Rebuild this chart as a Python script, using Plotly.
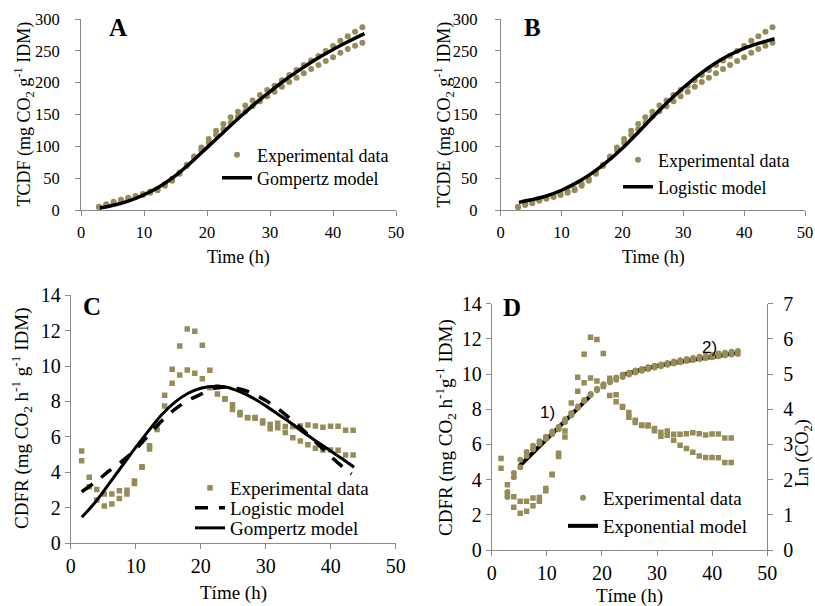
import plotly.graph_objects as go
import numpy as np

W, H = 815, 606
SERIF = "Times New Roman, Liberation Serif, DejaVu Serif, serif"
SANS = "Arial, Liberation Sans, DejaVu Sans, sans-serif"
OLIVE = "#978C58"
AXC = "#8a8a8a"

# ---------------- data ----------------
# cumulative CO2 (TCDF / TCDE), two replicates
time_cum = [2.86, 4.02, 5.18, 6.34, 7.50, 8.67, 9.83, 10.99, 12.15, 13.31, 14.47, 15.63,
            16.79, 17.95, 19.11, 20.28, 21.44, 22.60, 23.76, 24.92, 26.08, 27.24, 28.40,
            29.56, 30.72, 31.89, 33.05, 34.21, 35.37, 36.53, 37.69, 38.85, 40.01, 41.17,
            42.34, 43.50, 44.66]
tcdf_rep1 = [5.2, 8.9, 13.0, 16.2, 19.4, 22.0, 25.0, 29.0, 33.0, 41.0, 49.0, 59.0, 71.0,
             84.0, 98.0, 111.5, 124.6, 135.0, 145.6, 154.4, 164.0, 172.0, 180.6, 188.5,
             195.0, 203.7, 212.0, 220.0, 227.7, 235.0, 242.0, 249.7, 257.6, 266.0, 273.0,
             280.0, 287.0]
tcdf_rep2 = [4.5, 7.9, 10.5, 14.5, 17.5, 20.5, 23.5, 27.0, 31.0, 38.0, 46.0, 57.0, 69.0,
             82.0, 94.0, 105.7, 117.8, 126.7, 137.0, 147.0, 155.0, 163.0, 171.0, 178.6,
             185.9, 193.7, 201.0, 207.8, 214.7, 221.5, 227.7, 234.0, 240.0, 247.0, 252.9,
             258.0, 262.8]

# models for cumulative CO2
gompertz_cum_t = [3, 5, 7.5, 10, 12.5, 15, 17.5, 20, 22.5, 25, 27.5, 30, 32.5, 35, 37.5, 40, 42.5, 45]
gompertz_cum = [3, 7, 14, 24, 37, 54, 75, 98, 121, 144, 166, 186, 205, 222, 238, 252, 265, 277]
logistic_cum_t = [3, 5, 7.5, 10, 12.5, 15, 17.5, 20, 22.5, 25, 27.5, 30, 32.5, 35, 37.5, 40, 42.5, 45]
logistic_cum = [12, 16, 22, 31, 43, 58, 76, 97, 121, 146, 170, 192, 212, 229, 243, 254, 262, 269]

# CO2 production rate (CDFR), two replicates
time_rate = [1.69, 2.85, 4.01, 5.17, 6.33, 7.49, 8.65, 9.81, 10.97, 12.13, 13.29, 14.45,
             15.61, 16.77, 17.93, 19.09, 20.25, 21.41, 22.57, 23.73, 24.89, 26.05, 27.21,
             28.37, 29.53, 30.69, 31.85, 33.01, 34.17, 35.33, 36.49, 37.65, 38.81, 39.97,
             41.13, 42.29, 43.45]
cdfr_rep1 = [5.2, 3.71, 3.03, 2.77, 2.77, 2.96, 2.98, 3.5, 4.31, 5.5, 6.76, 8.35, 9.82,
             11.13, 12.1, 11.97, 11.17, 9.76, 8.82, 8.16, 7.82, 7.37, 7.1, 7.1, 6.9, 6.7,
             6.77, 6.58, 6.58, 6.61, 6.67, 6.61, 6.54, 6.6, 6.6, 6.37, 6.37]
cdfr_rep2 = [4.65, 3.18, 2.43, 2.09, 2.2, 2.52, 2.77, 3.37, 4.28, 5.31, 6.42, 7.74, 9.03,
             9.5, 9.78, 9.6, 9.29, 8.78, 8.42, 8.12, 7.55, 7.25, 7.08, 7.05, 6.78, 6.46,
             6.52, 6.24, 5.95, 5.77, 5.56, 5.35, 5.26, 5.26, 5.24, 4.97, 4.97]

# models for the rate
gompertz_rate_t = [1.7, 4, 6, 8, 10, 12, 14, 16, 18, 20, 22, 24, 26, 28, 30, 32, 34, 36, 38, 40, 42, 43.6]
gompertz_rate = [1.45, 2.4, 3.4, 4.4, 5.4, 6.35, 7.25, 7.95, 8.45, 8.75, 8.85, 8.8, 8.55,
                 8.2, 7.75, 7.25, 6.75, 6.2, 5.7, 5.2, 4.7, 4.28]
logistic_rate_t = [1.7, 4, 6, 8, 10, 12, 14, 16, 18, 20, 22, 24, 26, 28, 30, 32, 34, 36, 38, 40, 42, 43.2]
logistic_rate = [2.9, 3.5, 4.1, 4.65, 5.3, 6.1, 6.9, 7.55, 8.05, 8.4, 8.75, 8.8, 8.7, 8.45,
                 8.05, 7.55, 6.95, 6.3, 5.6, 4.9, 4.25, 3.9]

# exponential model on Ln(CO2): phase 1) and phase 2)
expo_t = [5.0, 17.9, None, 23.7, 29.3, 35.4, 41.4, 44.75]
expo_ln = [2.38, 4.38, None, 4.97, 5.21, 5.38, 5.52, 5.61]

# Ln of cumulative CO2 (both replicates)
ln_rep1 = list(np.round(np.log(tcdf_rep1), 3))
ln_rep2 = list(np.round(np.log(tcdf_rep2), 3))

both_t_cum = time_cum + time_cum
both_tcdf = tcdf_rep1 + tcdf_rep2
both_t_rate = time_rate + time_rate
both_cdfr = cdfr_rep1 + cdfr_rep2
both_ln = ln_rep1 + ln_rep2

# ---------------- helpers ----------------
def fx(p):
    return p / W

def fy(p):
    return 1 - p / H

fig = go.Figure()

def add(tr):
    fig.add_trace(tr)

# Panel A
add(go.Scatter(x=both_t_cum, y=both_tcdf, mode="markers", xaxis="x", yaxis="y",
               marker=dict(color=OLIVE, size=6), name="Experimental data", legend="legend"))
add(go.Scatter(x=gompertz_cum_t, y=gompertz_cum, mode="lines", xaxis="x", yaxis="y",
               line=dict(color="black", width=3.5, shape="spline"), name="Gompertz model",
               legend="legend2"))
# Panel B
add(go.Scatter(x=both_t_cum, y=both_tcdf, mode="markers", xaxis="x2", yaxis="y2",
               marker=dict(color=OLIVE, size=6), name="Experimental data", legend="legend3"))
add(go.Scatter(x=logistic_cum_t, y=logistic_cum, mode="lines", xaxis="x2", yaxis="y2",
               line=dict(color="black", width=3.5, shape="spline"), name="Logistic model",
               legend="legend4"))
# Panel C
add(go.Scatter(x=both_t_rate, y=both_cdfr, mode="markers", xaxis="x3", yaxis="y3",
               marker=dict(color=OLIVE, size=5.5, symbol="square"), name="Experimental data",
               legend="legend5"))
add(go.Scatter(x=logistic_rate_t, y=logistic_rate, mode="lines", xaxis="x3", yaxis="y3",
               line=dict(color="black", width=3.5, shape="spline", dash="13px,11px"),
               name="Logistic model", legend="legend6"))
add(go.Scatter(x=gompertz_rate_t, y=gompertz_rate, mode="lines", xaxis="x3", yaxis="y3",
               line=dict(color="black", width=3, shape="spline"), name="Gompertz model",
               legend="legend7"))
# Panel D
add(go.Scatter(x=both_t_rate, y=both_cdfr, mode="markers", xaxis="x4", yaxis="y4",
               marker=dict(color=OLIVE, size=5.5, symbol="square"), showlegend=False))
add(go.Scatter(x=expo_t, y=expo_ln, mode="lines", xaxis="x4", yaxis="y5",
               line=dict(color="black", width=4, shape="spline"), name="Exponential model",
               legend="legend9", connectgaps=False))
add(go.Scatter(x=both_t_cum, y=both_ln, mode="markers", xaxis="x4", yaxis="y5",
               marker=dict(color=OLIVE, size=6), name="Experimental data", legend="legend8"))

tickfont_ab = dict(family=SERIF, size=16.5, color="black")
tickfont_cd = dict(family=SERIF, size=20, color="black")

def xax(dom, anchor, tf, standoff):
    return dict(domain=dom, anchor=anchor, range=[0, 50], dtick=10, showline=True,
                linecolor=AXC, linewidth=1, ticks="outside", ticklen=5, tickcolor=AXC,
                showgrid=False, zeroline=False, tickfont=tf, ticklabelstandoff=standoff,
                fixedrange=True, automargin=False)

def yax(dom, anchor, rng, dt, tf, standoff):
    return dict(domain=dom, anchor=anchor, range=rng, dtick=dt, showline=True,
                linecolor=AXC, linewidth=1, ticks="outside", ticklen=5, tickcolor=AXC,
                showgrid=False, zeroline=False, tickfont=tf, ticklabelstandoff=standoff,
                fixedrange=True, automargin=False)

# pixel boxes of the four plot areas
A = (81, 396, 19, 210)
B = (500.7, 805, 19, 210)
C = (70.7, 395.7, 295.3, 543)
D = (491.7, 767.3, 303.7, 550)

def xd(b):
    return [fx(b[0]), fx(b[1])]

def yd(b):
    return [fy(b[3]), fy(b[2])]

layout = dict(
    width=W, height=H, margin=dict(l=0, r=0, t=0, b=0, autoexpand=False),
    paper_bgcolor="white", plot_bgcolor="white",
    font=dict(family=SERIF, color="black"),
    xaxis=xax(xd(A), "y", tickfont_ab, 2),
    yaxis=yax(yd(A), "x", [0, 300], 50, tickfont_ab, 12),
    xaxis2=xax(xd(B), "y2", tickfont_ab, 2),
    yaxis2=yax(yd(B), "x2", [0, 300], 50, tickfont_ab, 14),
    xaxis3=xax(xd(C), "y3", tickfont_cd, 0),
    yaxis3=yax(yd(C), "x3", [0, 14], 2, tickfont_cd, 0),
    xaxis4=xax(xd(D), "y4", tickfont_cd, 0),
    yaxis4=yax(yd(D), "x4", [0, 14], 2, tickfont_cd, 0),
    yaxis5=dict(overlaying="y4", anchor="x4", side="right", range=[0, 7], dtick=1,
                showline=True, linecolor=AXC, linewidth=1, ticks="outside", ticklen=5,
                tickcolor=AXC, showgrid=False, zeroline=False, tickfont=tickfont_cd,
                ticklabelstandoff=6, fixedrange=True, automargin=False),
    showlegend=True,
)

def leg(xpix, ypix, size):
    return dict(x=fx(xpix), y=fy(ypix), xanchor="left", yanchor="middle",
                bgcolor="rgba(0,0,0,0)", borderwidth=0, itemwidth=30,
                font=dict(family=SERIF, size=size, color="black"),
                tracegroupgap=0)

layout["legend"] = leg(217, 155, 18)
layout["legend2"] = leg(217, 178, 18)
layout["legend3"] = leg(618, 160, 18)
layout["legend4"] = leg(618, 187, 18)
layout["legend5"] = leg(190, 488, 19)
layout["legend6"] = leg(190, 508, 19)
layout["legend7"] = leg(190, 528, 19)
layout["legend8"] = leg(563, 498, 19)
layout["legend9"] = leg(563, 526, 19)

fig.update_layout(**layout)

ann = []
def text(xp, yp, s, size, angle=0, bold=False, family=SERIF):
    if bold:
        s = "<b>" + s + "</b>"
    ann.append(dict(x=fx(xp), y=fy(yp), xref="paper", yref="paper", text=s,
                    showarrow=False, textangle=angle, xanchor="center", yanchor="middle",
                    font=dict(family=family, size=size, color="black")))

# panel letters
text(118, 27, "A", 25, bold=True)
text(532, 27, "B", 25, bold=True)
text(92, 306, "C", 25, bold=True)
text(512, 307, "D", 25, bold=True)

# axis titles
text(238.5, 257, "Time (h)", 18)
text(653, 257, "Time (h)", 18)
text(233, 593, "Tíme (h)", 19)
text(629.5, 596, "Tíme (h)", 19)
text(24, 114.5, "TCDF (mg CO<sub>2</sub> g<sup>-1</sup> IDM)", 18, angle=-90)
text(444, 114.5, "TCDE (mg CO<sub>2</sub> g<sup>-1</sup> IDM)", 18, angle=-90)
text(21, 419, "CDFR (mg CO<sub>2</sub> h<sup>-1</sup> g<sup>-1</sup> IDM)", 19, angle=-90)
text(445, 427, "CDFR (mg CO<sub>2</sub> h<sup>-1</sup>g<sup>-1</sup> IDM)", 19, angle=-90)
text(803, 453, "Ln (CO<sub>2</sub>)", 18, angle=-90)

# phase labels in panel D
ann.append(dict(x=10.2, y=7.8, xref="x4", yref="y4", text="1)", showarrow=False,
                font=dict(family=SANS, size=17, color="black")))
ann.append(dict(x=39.6, y=11.5, xref="x4", yref="y4", text="2)", showarrow=False,
                font=dict(family=SANS, size=17, color="black")))

fig.update_layout(annotations=ann)
fig.write_html("out.html", config={"displayModeBar": False},
               post_script="document.body.style.margin='0';document.body.style.overflow='hidden';")
